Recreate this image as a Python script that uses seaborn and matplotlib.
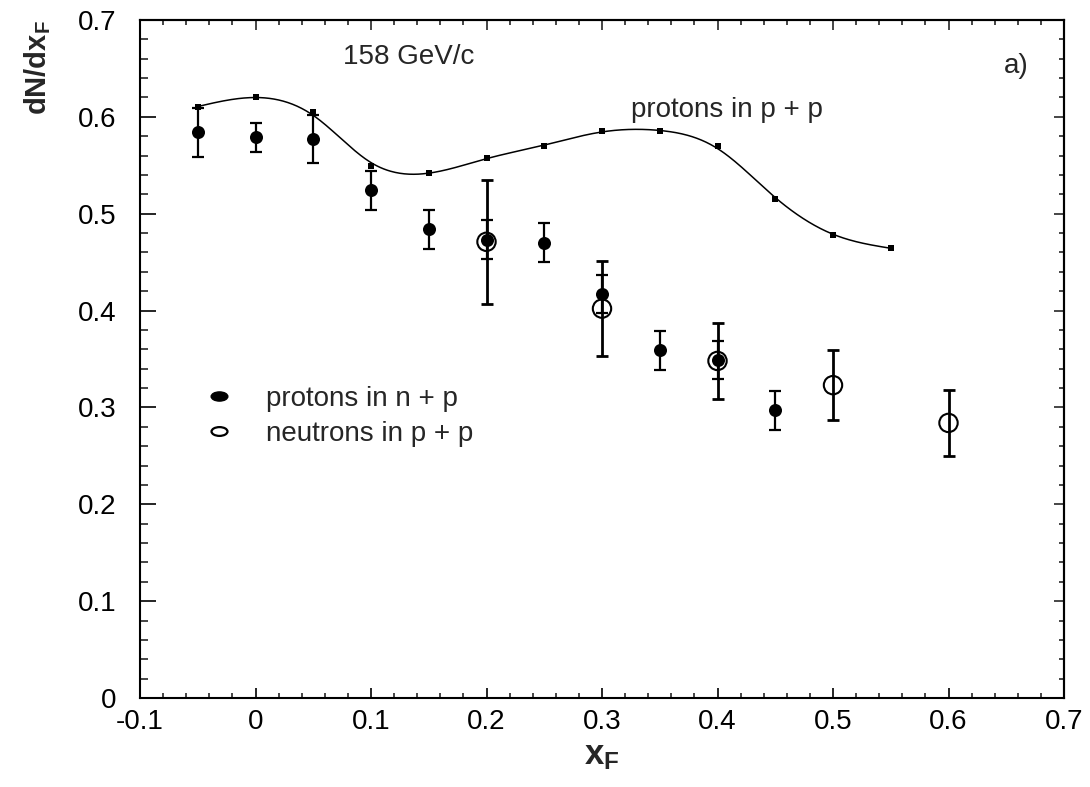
import numpy as np
import pandas as pd
import seaborn as sns
import matplotlib.pyplot as plt
from matplotlib.path import Path
from matplotlib.transforms import Affine2D
from matplotlib.lines import Line2D
from matplotlib.ticker import MultipleLocator, FixedLocator, FixedFormatter

# protons in p + p (small squares with smooth curve)
pp_x = [-0.05, 0.0, 0.05, 0.10, 0.15, 0.20, 0.25, 0.30, 0.35, 0.40, 0.45, 0.50, 0.55]
pp_y = [0.610, 0.620, 0.605, 0.549, 0.542, 0.558, 0.570, 0.585, 0.585, 0.570, 0.515, 0.478, 0.465]

# protons in n + p (filled circles)
npp_x = [-0.05, 0.0, 0.05, 0.10, 0.15, 0.20, 0.25, 0.30, 0.35, 0.40, 0.45]
npp_y = [0.584, 0.579, 0.577, 0.524, 0.484, 0.473, 0.470, 0.417, 0.359, 0.349, 0.297]
npp_err = [0.025, 0.015, 0.025, 0.020, 0.020, 0.020, 0.020, 0.020, 0.020, 0.020, 0.020]

# neutrons in p + p (open circles)
neu_x = [0.2, 0.3, 0.4, 0.5, 0.6]
neu_y = [0.471, 0.402, 0.348, 0.323, 0.284]
neu_err = [0.064, 0.049, 0.039, 0.036, 0.034]

x_ticks = [-0.1, 0.0, 0.1, 0.2, 0.3, 0.4, 0.5, 0.6, 0.7]
x_labels = ["-0.1", "0", "0.1", "0.2", "0.3", "0.4", "0.5", "0.6", "0.7"]
y_ticks = [0.0, 0.1, 0.2, 0.3, 0.4, 0.5, 0.6, 0.7]
y_labels = ["0", "0.1", "0.2", "0.3", "0.4", "0.5", "0.6", "0.7"]

sns.set_theme(style="ticks")
plt.rcParams["font.family"] = ["Liberation Sans", "DejaVu Sans"]
plt.rcParams["mathtext.fontset"] = "custom"
plt.rcParams["mathtext.rm"] = "Liberation Sans"
plt.rcParams["mathtext.bf"] = "Liberation Sans:bold"
plt.rcParams["mathtext.it"] = "Liberation Sans:italic"


def smooth_curve(x, y, lam=3000.0, step=0.001):
    """Penalised (Whittaker) smoothing of the p+p points on a fine grid."""
    x = np.asarray(x, float)
    y = np.asarray(y, float)
    grid = np.round(np.arange(x.min(), x.max() + step / 2, step), 6)
    n = grid.size
    idx = np.rint((x - x.min()) / step).astype(int)
    w = np.zeros(n)
    target = np.zeros(n)
    w[idx] = 1.0
    target[idx] = y
    d = np.diff(np.eye(n), n=2, axis=0)
    z = np.linalg.solve(np.diag(w) + lam * d.T @ d, w * target)
    return grid, z


fig = plt.figure(figsize=(10.9, 7.87), dpi=100)
ax = fig.add_axes([140 / 1090, 89 / 787, 924 / 1090, 678 / 787])

gx, gy = smooth_curve(pp_x, pp_y)
curve = pd.DataFrame({"x": gx, "y": gy})
sns.lineplot(data=curve, x="x", y="y", ax=ax, color="black", lw=1.1,
             estimator=None, sort=True, legend=False)

pp = pd.DataFrame({"x": pp_x, "y": pp_y})
sns.scatterplot(data=pp, x="x", y="y", ax=ax, marker="s", s=20,
                color="black", edgecolor="black", linewidth=0, legend=False, zorder=3)

ax.errorbar(npp_x, npp_y, yerr=npp_err, fmt="none", ecolor="black",
            elinewidth=1.6, capsize=4.3, capthick=1.6, zorder=2)
ax.errorbar(neu_x, neu_y, yerr=neu_err, fmt="none", ecolor="black",
            elinewidth=2.0, capsize=4.3, capthick=2.0, zorder=2)

npp = pd.DataFrame({"x": npp_x, "y": npp_y})
sns.scatterplot(data=npp, x="x", y="y", ax=ax, marker="o", s=88,
                color="black", edgecolor="black", linewidth=0, legend=False, zorder=4)

neu = pd.DataFrame({"x": neu_x, "y": neu_y})
sns.scatterplot(data=neu, x="x", y="y", ax=ax, marker="o", s=175,
                facecolor="none", edgecolor="black", linewidth=1.5, legend=False, zorder=5)

ax.set_xlim(-0.1, 0.7)
ax.set_ylim(0.0, 0.7)

ax.xaxis.set_major_locator(FixedLocator(x_ticks))
ax.xaxis.set_major_formatter(FixedFormatter(x_labels))
ax.yaxis.set_major_locator(FixedLocator(y_ticks))
ax.yaxis.set_major_formatter(FixedFormatter(y_labels))
ax.xaxis.set_minor_locator(MultipleLocator(0.02))
ax.yaxis.set_minor_locator(MultipleLocator(0.02))

ax.tick_params(axis="x", which="major", direction="in", length=7.2, width=1.2,
               labelsize=20, pad=8, colors="black")
ax.tick_params(axis="x", which="minor", direction="in", length=3.6, width=1.2)
ax.tick_params(axis="y", which="major", direction="in", length=11.5, width=1.2,
               labelsize=20, pad=17, colors="black")
ax.tick_params(axis="y", which="minor", direction="in", length=5.8, width=1.2)

top = ax.secondary_xaxis("top")
top.xaxis.set_major_locator(FixedLocator(x_ticks))
top.xaxis.set_minor_locator(MultipleLocator(0.02))
top.tick_params(which="major", direction="in", length=7.2, width=1.2, labeltop=False)
top.tick_params(which="minor", direction="in", length=3.6, width=1.2)
right = ax.secondary_yaxis("right")
right.yaxis.set_major_locator(FixedLocator(y_ticks))
right.yaxis.set_minor_locator(MultipleLocator(0.02))
right.tick_params(which="major", direction="in", length=7.2, width=1.2, labelright=False)
right.tick_params(which="minor", direction="in", length=3.6, width=1.2)
for a in (ax, top, right):
    for sp in a.spines.values():
        sp.set_linewidth(1.5)
        sp.set_color("black")

ax.set_xlabel(r"$\mathbf{x_F}$", fontsize=25, labelpad=3)
ax.set_ylabel(r"$\mathbf{dN/dx_F}$", fontsize=21, loc="top", labelpad=18)

ax.text(0.076, 0.662, "158 GeV/c", fontsize=20, ha="left", va="center")
ax.text(0.648, 0.653, "a)", fontsize=20, ha="left", va="center")
ax.text(0.325, 0.600, "protons in p + p", fontsize=20, ha="left", va="baseline")

ellipse = Path.unit_circle().transformed(Affine2D().scale(1.0, 0.55))
handles = [
    Line2D([], [], ls="none", marker=ellipse, markersize=12, color="black",
           markerfacecolor="black", markeredgewidth=1.0),
    Line2D([], [], ls="none", marker=ellipse, markersize=11.5, color="black",
           markerfacecolor="white", markeredgewidth=1.6),
]
ax.legend(handles, ["protons in n + p", "neutrons in p + p"], fontsize=20,
          frameon=False, loc="upper left", bbox_to_anchor=(205 / 1090, 1 - 386 / 787),
          bbox_transform=fig.transFigure, borderpad=0, borderaxespad=0,
          handlelength=1.0, handletextpad=1.19, labelspacing=0.32)

fig.savefig("out.png", dpi=100)
